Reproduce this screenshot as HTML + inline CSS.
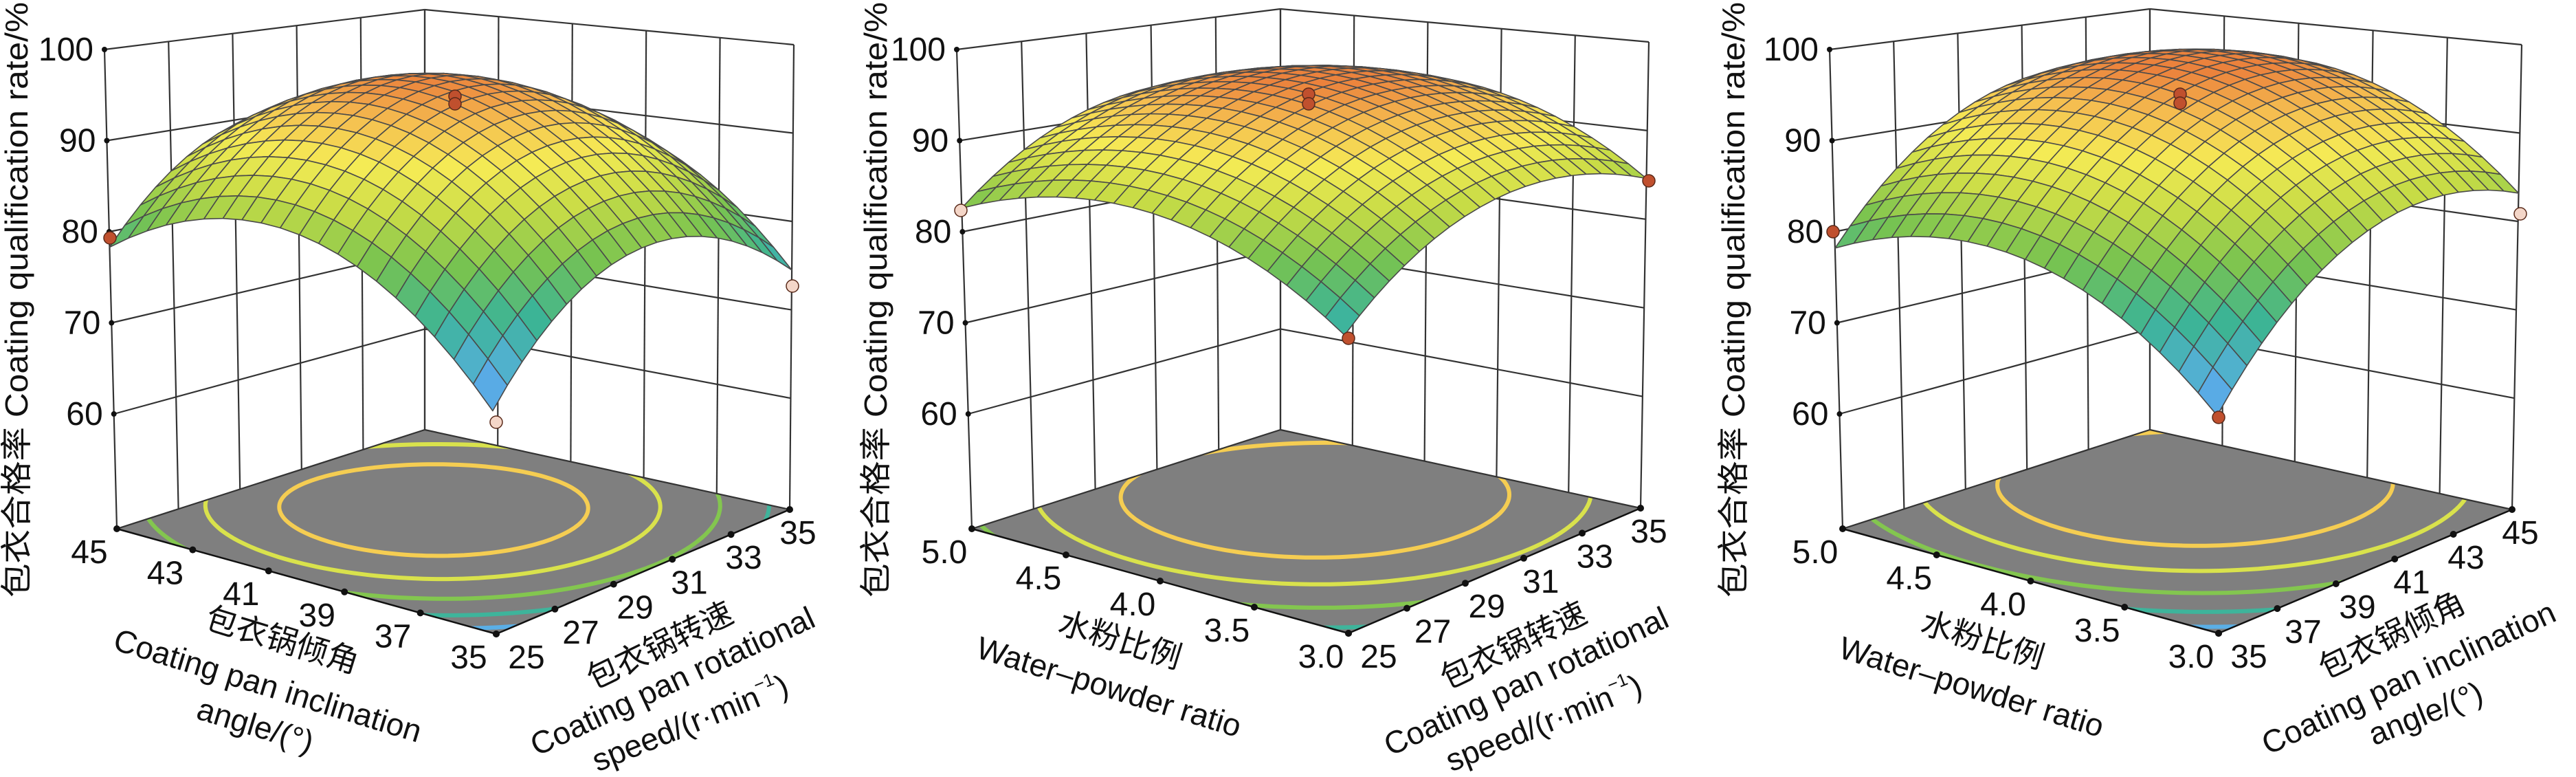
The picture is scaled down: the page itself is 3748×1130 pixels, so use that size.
<!DOCTYPE html>
<html><head><meta charset="utf-8">
<style>
html,body{margin:0;padding:0;background:#fff;}
svg{display:block;}
text{font-family:"Liberation Sans","Noto Sans CJK SC",sans-serif;fill:#111;}
</style></head>
<body>
<svg id="s" xmlns="http://www.w3.org/2000/svg" width="3748" height="1130" viewBox="0 0 3748 1130">
<rect width="3748" height="1130" fill="#fff"/>
<g font-size="46">
<!-- Panel 1 -->
<text transform="translate(40,436) rotate(-90)" text-anchor="middle" textLength="866" lengthAdjust="spacingAndGlyphs">包衣合格率 Coating qualification rate/%</text>
<g transform="translate(406,946) rotate(17)"><text text-anchor="middle">包衣锅倾角</text></g>
<g transform="translate(385,1012) rotate(17)"><text text-anchor="middle">Coating pan inclination</text></g>
<g transform="translate(367,1070) rotate(17)"><text text-anchor="middle">angle/(°)</text></g>
<g transform="translate(967,953) rotate(-26)"><text text-anchor="middle">包衣锅转速</text></g>
<g transform="translate(985,1005) rotate(-25)"><text text-anchor="middle">Coating pan rotational</text></g>
<g transform="translate(1010,1066) rotate(-22)"><text text-anchor="middle">speed/(r·min<tspan font-size="26" dy="-22">−1</tspan><tspan dy="22">)</tspan></text></g>
<!-- Panel 2 -->
<text transform="translate(1290,436) rotate(-90)" text-anchor="middle" textLength="866" lengthAdjust="spacingAndGlyphs">包衣合格率 Coating qualification rate/%</text>
<g transform="translate(1625,946) rotate(17)"><text text-anchor="middle">水粉比例</text></g>
<g transform="translate(1609,1014) rotate(17)"><text text-anchor="middle">Water–powder ratio</text></g>
<g transform="translate(2209,953) rotate(-26)"><text text-anchor="middle">包衣锅转速</text></g>
<g transform="translate(2227,1005) rotate(-25)"><text text-anchor="middle">Coating pan rotational</text></g>
<g transform="translate(2252,1066) rotate(-22)"><text text-anchor="middle">speed/(r·min<tspan font-size="26" dy="-22">−1</tspan><tspan dy="22">)</tspan></text></g>
<!-- Panel 3 -->
<text transform="translate(2538,436) rotate(-90)" text-anchor="middle" textLength="866" lengthAdjust="spacingAndGlyphs">包衣合格率 Coating qualification rate/%</text>
<g transform="translate(2880,946) rotate(17)"><text text-anchor="middle">水粉比例</text></g>
<g transform="translate(2864,1014) rotate(17)"><text text-anchor="middle">Water–powder ratio</text></g>
<g transform="translate(3487,938) rotate(-26)"><text text-anchor="middle">包衣锅倾角</text></g>
<g transform="translate(3511,1000) rotate(-25)"><text text-anchor="middle">Coating pan inclination</text></g>
<g transform="translate(3535,1052) rotate(-22)"><text text-anchor="middle">angle/(°)</text></g>
</g>
<g id="dyn"></g>
</svg>
<script>
(function(){
var NS="http://www.w3.org/2000/svg";
var root=document.getElementById('dyn');
function el(tag,attrs,parent,txt){var e=document.createElementNS(NS,tag);for(var k in attrs)e.setAttribute(k,attrs[k]);if(txt!==undefined)e.textContent=txt;(parent||root).appendChild(e);return e;}
var zf=47.4;
var stops=[[0,[80,110,210]],[0.18,[90,175,230]],[0.35,[60,180,150]],[0.5,[120,195,80]],[0.65,[200,220,70]],[0.78,[245,235,85]],[0.9,[245,190,80]],[1,[235,130,60]]];
function cmap(t){t=Math.max(0,Math.min(1,t));for(var i=1;i<stops.length;i++){if(t<=stops[i][0]){var a=stops[i-1],b=stops[i];var f=(t-a[0])/(b[0]-a[0]);var c=[0,1,2].map(function(k){return Math.round(a[1][k]+(b[1][k]-a[1][k])*f);});return 'rgb('+c.join(',')+')';}}return 'rgb(235,130,60)';}
var panels=[
 {L:[170,769],F:[722,922],R:[1149,741],B:[618,625],Lt:[152,72],Bt:[618,14],Rt:[1155,65],
  c:[95.8,4.25,2.35,9.7,9.7],zmin:67,zmax:96.5,left:['35','37','39','41','43','45'],right:['25','27','29','31','33','35'],
  m:[[160,346,'#c0502e'],[1153,416,'#f4d6c8'],[722,614,'#f4d6c8'],[662,140,'#c0502e'],[662,151,'#c0502e']]},
 {L:[1414,769],F:[1962,921],R:[2387,739],B:[1863,625],Lt:[1392,72],Bt:[1863,13],Rt:[2399,61],
  c:[95.5,2.65,3.65,6,5.9],zmin:70,zmax:96,left:['3.0','3.5','4.0','4.5','5.0'],right:['25','27','29','31','33','35'],
  m:[[1398,306,'#f4d6c8'],[2399,263,'#c0502e'],[1962,492,'#c0502e'],[1904,137,'#c0502e'],[1904,151,'#c0502e']]},
 {L:[2681,769],F:[3228,921],R:[3655,741],B:[3128,625],Lt:[2662,72],Bt:[3128,13],Rt:[3669,65],
  c:[95.5,4.45,6.95,7.4,7.4],zmin:66,zmax:97,left:['3.0','3.5','4.0','4.5','5.0'],right:['35','37','39','41','43','45'],
  m:[[2667,337,'#c0502e'],[3667,311,'#f4d6c8'],[3228,607,'#c0502e'],[3172,137,'#c0502e'],[3172,150,'#c0502e']]}
];
panels.forEach(function(p,pi){
 var Ft=[p.F[0]+(p.Lt[0]-p.L[0])+(p.Rt[0]-p.R[0])-(p.Bt[0]-p.B[0]), p.F[1]+(p.Lt[1]-p.L[1])+(p.Rt[1]-p.R[1])-(p.Bt[1]-p.B[1])];
 function bil(F,L,R,B,a,b){return [(1-a)*(1-b)*F[0]+a*(1-b)*L[0]+(1-a)*b*R[0]+a*b*B[0],(1-a)*(1-b)*F[1]+a*(1-b)*L[1]+(1-a)*b*R[1]+a*b*B[1]];}
 function P(a,b,z){var f=bil(p.F,p.L,p.R,p.B,a,b),t=bil(Ft,p.Lt,p.Rt,p.Bt,a,b);var k=(z-zf)/(100-zf);return [f[0]+(t[0]-f[0])*k,f[1]+(t[1]-f[1])*k];}
 function Z(a,b){var s=2*a-1,t=2*b-1,c=p.c;return c[0]+c[1]*s+c[2]*t-c[3]*s*s-c[4]*t*t;}
 var g=el('g',{});
 var fl=[p.F,p.L,p.B,p.R].map(function(q){return q.join(',');}).join(' ');
 el('polygon',{points:fl,fill:'#7f7f7f'},g);
 var cid='clip'+pi;var cp=el('clipPath',{id:cid},g);el('polygon',{points:fl},cp);
 var cg=el('g',{'clip-path':'url(#'+cid+')'},g);
 var c=p.c;var s0=c[1]/(2*c[3]),t0=c[2]/(2*c[4]);var zm=c[0]+c[1]*c[1]/(4*c[3])+c[2]*c[2]/(4*c[4]);
 [0.86,0.7,0.52,0.34,0.18].forEach(function(lv){
  var L=p.zmin+lv*(p.zmax-p.zmin);if(L>=zm)return;
  var rs=Math.sqrt((zm-L)/c[3]),rt=Math.sqrt((zm-L)/c[4]);var pts=[];
  for(var i=0;i<=180;i++){var th=i/180*2*Math.PI;var s=s0+rs*Math.cos(th),t=t0+rt*Math.sin(th);var q=P((s+1)/2,(t+1)/2,zf);pts.push(q[0].toFixed(1)+','+q[1].toFixed(1));}
  el('polyline',{points:pts.join(' '),fill:'none',stroke:cmap(lv),'stroke-width':6},cg);
 });
 var wl={stroke:'#333','stroke-width':2.2,fill:'none'};
 function line(A,B2,at){var o={x1:A[0].toFixed(1),y1:A[1].toFixed(1),x2:B2[0].toFixed(1),y2:B2[1].toFixed(1)};for(var k in at)o[k]=at[k];el('line',o,g);}
 for(var k=0;k<=5;k++){var b=k/5;line(P(1,b,zf),P(1,b,100),wl);var a=k/5;line(P(a,1,zf),P(a,1,100),wl);}
 [60,70,80,90,100].forEach(function(z){line(P(1,0,z),P(1,1,z),wl);line(P(1,1,z),P(0,1,z),wl);});
 line(P(1,0,zf),P(1,1,zf),wl);line(P(1,1,zf),P(0,1,zf),wl);
 [60,70,80,90,100].forEach(function(z){var q=P(1,0,z);el('circle',{cx:q[0],cy:q[1],r:4,fill:'#111'},g);
  el('text',{x:q[0]-16,y:q[1]+16,'text-anchor':'end','font-size':48},g,String(z));});
 var ax={stroke:'#111','stroke-width':2.5};
 line(p.L,p.F,ax);line(p.F,p.R,ax);
 var nl=p.left.length-1;
 p.left.forEach(function(lab,i){var a=i/nl;var q=P(a,0,zf);el('circle',{cx:q[0],cy:q[1],r:5,fill:'#111'},g);
  el('text',{x:q[0]-40,y:q[1]+50,'text-anchor':'middle','font-size':48},g,lab);});
 p.right.forEach(function(lab,i){var b=i/5;var q=P(0,b,zf);el('circle',{cx:q[0],cy:q[1],r:5,fill:'#111'},g);
  el('text',{x:q[0]+44-32*b,y:q[1]+50,'text-anchor':'middle','font-size':48},g,lab);});
 var N=20,quads=[];
 for(var i=0;i<N;i++)for(var j=0;j<N;j++){quads.push([i,j]);}
 quads.sort(function(u,v){return (v[0]+v[1])-(u[0]+u[1]);});
 var sg=el('g',{},g);
 quads.forEach(function(qd){var a0=qd[0]/N,a1=(qd[0]+1)/N,b0=qd[1]/N,b1=(qd[1]+1)/N;
  var cs=[[a0,b0],[a1,b0],[a1,b1],[a0,b1]];var zs=cs.map(function(x){return Z(x[0],x[1]);});
  var pts=cs.map(function(x,k){var q=P(x[0],x[1],zs[k]);return q[0].toFixed(1)+','+q[1].toFixed(1);}).join(' ');
  var zc=(zs[0]+zs[1]+zs[2]+zs[3])/4;
  el('polygon',{points:pts,fill:cmap((zc-p.zmin)/(p.zmax-p.zmin)),stroke:'#4a4a4a','stroke-width':1.6,'stroke-linejoin':'round'},sg);});
 p.m.forEach(function(m){el('circle',{cx:m[0],cy:m[1],r:9,fill:m[2],stroke:'#5a2a1a','stroke-width':1.5},g);});
});
})();
</script>
</body></html>
